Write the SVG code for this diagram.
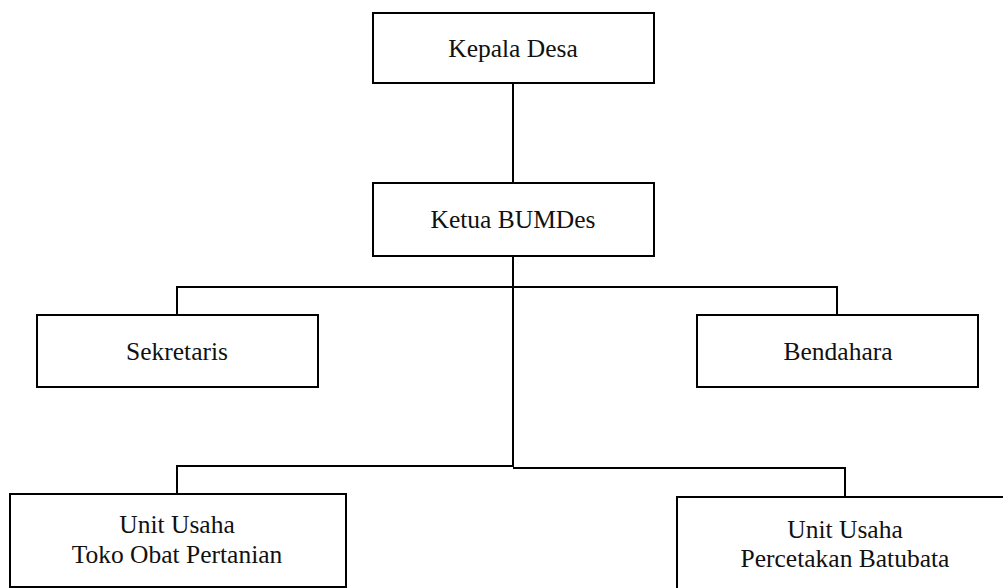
<svg xmlns="http://www.w3.org/2000/svg" width="1003" height="588" viewBox="0 0 1003 588">
<style>
.box{fill:#fff;stroke:#000;stroke-width:2}
.ln{fill:none;stroke:#000;stroke-width:2}
text{font-family:"Liberation Serif","Times New Roman",serif;font-size:25.5px;fill:#111;text-anchor:middle}
</style>
<rect width="1003" height="588" fill="#fff"/>
<g id="connectors">
<path class="ln" d="M513,83 V183"/>
<path class="ln" d="M513,256 V467"/>
<path class="ln" d="M177,315 V287 H837 V315"/>
<path class="ln" d="M177,494 V466 H513"/>
<path class="ln" d="M513,468 H845 V497"/>
</g>
<g id="kepala-desa">
<rect class="box" x="373" y="13" width="281" height="70"/>
<text x="513" y="57">Kepala Desa</text>
</g>
<g id="ketua-bumdes">
<rect class="box" x="373" y="183" width="281" height="73"/>
<text x="513" y="228">Ketua BUMDes</text>
</g>
<g id="sekretaris">
<rect class="box" x="37" y="315" width="281" height="72"/>
<text x="177" y="360">Sekretaris</text>
</g>
<g id="bendahara">
<rect class="box" x="697" y="315" width="281" height="72"/>
<text x="838" y="360">Bendahara</text>
</g>
<g id="unit-toko">
<rect class="box" x="10" y="494" width="336" height="93"/>
<text x="177" y="533">Unit Usaha</text>
<text x="177" y="563">Toko Obat Pertanian</text>
</g>
<g id="unit-batubata">
<rect class="box" x="677" y="497" width="340" height="100"/>
<text x="845" y="538">Unit Usaha</text>
<text x="845" y="567">Percetakan Batubata</text>
</g>
</svg>
